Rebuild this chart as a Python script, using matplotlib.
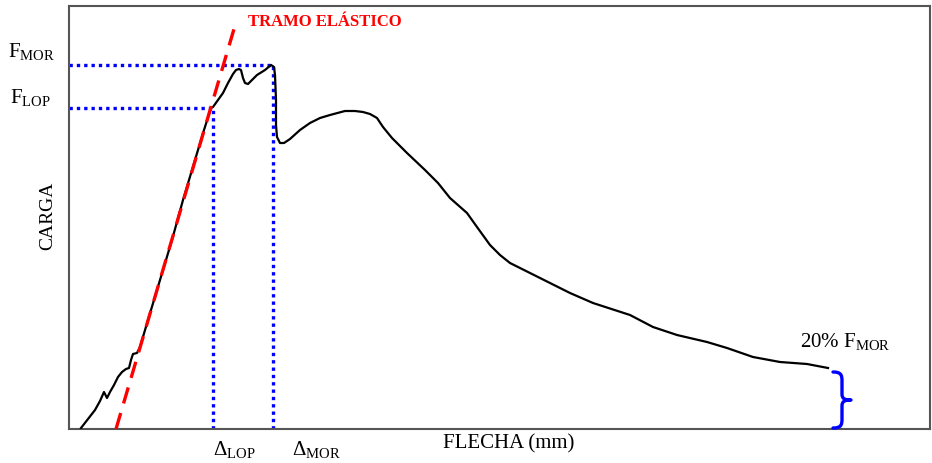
import numpy as np
import matplotlib.pyplot as plt
from matplotlib.path import Path
from matplotlib.patches import PathPatch

plt.rcParams['font.family'] = ['Liberation Serif', 'DejaVu Serif']
plt.rcParams['mathtext.fontset'] = 'custom'
plt.rcParams['mathtext.rm'] = 'Liberation Serif'
plt.rcParams['mathtext.it'] = 'Liberation Serif:italic'

# load-deflection curve (arbitrary units)
flecha = [12, 19, 26, 31, 35, 38, 41, 45, 49, 53, 57, 60, 62, 64, 68, 71,
          79, 91, 103, 114, 126, 135, 142, 144, 149, 154, 159, 164, 167, 170,
          172, 174, 176, 179, 183, 188, 196, 202, 205, 206, 207, 207, 208, 211,
          215, 221, 231, 241, 251, 261, 276, 286, 294, 301, 308, 314, 323, 338,
          356, 369, 381, 398, 408, 421, 431, 441, 461, 481, 501, 524, 561, 584,
          608, 638, 658, 684, 711, 738, 759]
carga = [1, 10, 19, 28, 37, 31, 37, 44, 52, 57, 60, 61, 69, 75, 76, 82,
         109, 149, 189, 229, 269, 299, 321, 322, 329, 336, 346, 355, 359, 360,
         359, 351, 346, 345, 349, 354, 359, 364, 362, 354, 329, 304, 292, 286,
         286, 290, 299, 306, 311, 314, 318, 318, 317, 315, 311, 302, 291, 276,
         259, 246, 231, 216, 202, 184, 174, 166, 156, 146, 136, 126, 114, 102,
         94, 87, 81, 72, 67, 65, 61]

# elastic line, limit of proportionality, maximum
elastico_x = [47, 165]
elastico_y = [0, 400]
lop_x, lop_y = 144, 321
mor_x, mor_y = 204, 364

# 20% F_MOR range marked with brace
brace_x = 764
brace_y0, brace_y1 = 1, 57

fig = plt.figure(figsize=(9.32, 4.63), dpi=100)
ax = fig.add_axes([69 / 932, 34 / 463, 861 / 932, 423 / 463])
ax.set_xlim(0, 861)
ax.set_ylim(0, 423)
for s in ax.spines.values():
    s.set_color('#555555')
    s.set_linewidth(1.5)
ax.set_xticks([])
ax.set_yticks([])

ax.plot(flecha, carga, color='black', lw=1.6, zorder=3, solid_joinstyle='round')
ax.plot(elastico_x, elastico_y, color='#ff0000', lw=2.4, ls=(0, (5, 3)), zorder=4)

dot = dict(color='#0000ff', lw=2.4, ls=(0, (1, 1.2)), zorder=2)
ax.plot([0, mor_x], [mor_y, mor_y], **dot)
ax.plot([mor_x, mor_x], [0, mor_y], **dot)
ax.plot([0, lop_x], [lop_y, lop_y], **dot)
ax.plot([lop_x, lop_x], [0, lop_y], **dot)

# curly brace
bm = (brace_y0 + brace_y1) / 2
bx = brace_x
verts = [(bx, brace_y1),
         (bx + 8, brace_y1), (bx + 9, brace_y1 - 3), (bx + 9, brace_y1 - 9),
         (bx + 9, bm + 6),
         (bx + 9, bm + 1), (bx + 12, bm), (bx + 18, bm),
         (bx + 12, bm), (bx + 9, bm - 1), (bx + 9, bm - 6),
         (bx + 9, brace_y0 + 9),
         (bx + 9, brace_y0 + 3), (bx + 8, brace_y0), (bx, brace_y0)]
codes = [Path.MOVETO, Path.CURVE4, Path.CURVE4, Path.CURVE4, Path.LINETO,
         Path.CURVE4, Path.CURVE4, Path.CURVE4, Path.CURVE4, Path.CURVE4, Path.CURVE4,
         Path.LINETO, Path.CURVE4, Path.CURVE4, Path.CURVE4]
ax.add_patch(PathPatch(Path(verts, codes), fill=False, ec='#0000ff', lw=2.4,
                       capstyle='round', joinstyle='round', zorder=5, clip_on=False))

ax.text(179, 407, 'TRAMO ELÁSTICO', color='#ff0000', fontsize=12, fontweight='bold',
        ha='left', va='center')
ax.text(731, 88, r'20% F$_{\mathrm{MOR}}$', fontsize=15, ha='left', va='center')

fig.text(8 / 932, 1 - 52 / 463, r'F$_{\mathrm{MOR}}$', fontsize=15, ha='left', va='center')
fig.text(10 / 932, 1 - 97 / 463, r'F$_{\mathrm{LOP}}$', fontsize=15, ha='left', va='center')
fig.text(213 / 932, 1 - 450 / 463, r'$\Delta_{\mathrm{LOP}}$', fontsize=15, ha='left', va='center')
fig.text(292 / 932, 1 - 450 / 463, r'$\Delta_{\mathrm{MOR}}$', fontsize=15, ha='left', va='center')
fig.text(509 / 932, 1 - 444 / 463, 'FLECHA (mm)', fontsize=15, ha='center', va='center')
fig.text(48 / 932, 1 - 216 / 463, 'CARGA', fontsize=14, ha='center', va='center', rotation=90)

fig.savefig('out.png', dpi=100)
